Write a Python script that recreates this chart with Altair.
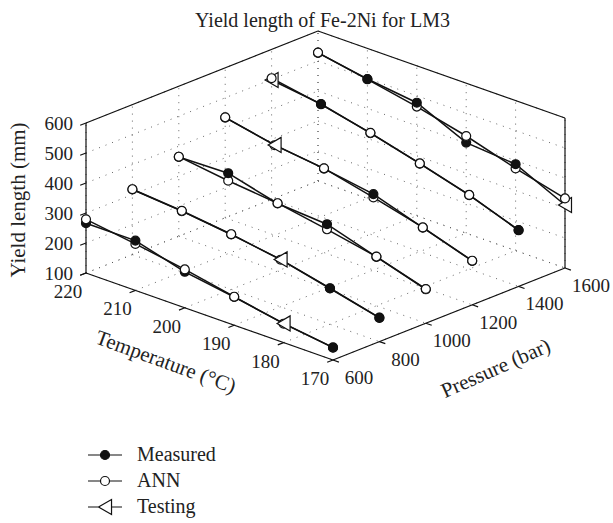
import math

import altair as alt
import pandas as pd

# Experiment settings
temperatures = [220, 210, 200, 190, 180, 170]       # °C
pressures = [600, 800, 1000, 1200, 1400, 1600]      # bar
yield_ticks = [100, 200, 300, 400, 500, 600]         # mm

# Yield length (mm): one row per pressure, values in temperature order
measured = [
    [266, 266, 220, 194, 164, 142],   # 600 bar
    [317, 303, 283, 258, 220, 180],   # 800 bar
    [364, 368, 325, 314, 263, 213],   # 1000 bar
    [434, 401, 380, 353, 299, 246],   # 1200 bar
    [498, 476, 437, 393, 346, 288],   # 1400 bar
    [527, 498, 477, 402, 388, 310],   # 1600 bar
]
ann = [
    [279, 255, 228, 195, 163, 141],
    [318, 304, 284, 257, 219, 179],
    [365, 343, 326, 297, 264, 214],
    [435, 400, 381, 342, 300, 247],
    [504, 475, 438, 394, 347, 287],
    [528, 497, 464, 424, 374, 332],
]
# measured points kept aside to test the network: (pressure, temperature)
testing = [(600, 180), (800, 190), (1200, 210), (1400, 220), (1600, 170)]

SERIES = ["Measured", "ANN", "Testing"]
FONT = "Liberation Serif"
INK = "#222222"

# Oblique 3-D view: screen vector spanned by each axis over its full range
T_HI, T_LO = max(temperatures), min(temperatures)
P_LO, P_HI = min(pressures), max(pressures)
Z_LO, Z_HI = min(yield_ticks), max(yield_ticks)
ORIGIN = (86.0, 273.0)        # corner (220 °C, 600 bar, 100 mm)
T_VEC = (247.0, 87.0)         # 220 °C -> 170 °C
P_VEC = (232.0, -92.0)        # 600 bar -> 1600 bar
Z_VEC = (0.0, -150.0)         # 100 mm -> 600 mm


def project(t, p, z):
    a = (T_HI - t) / (T_HI - T_LO)
    b = (p - P_LO) / (P_HI - P_LO)
    c = (z - Z_LO) / (Z_HI - Z_LO)
    sx = ORIGIN[0] + a * T_VEC[0] + b * P_VEC[0] + c * Z_VEC[0]
    sy = ORIGIN[1] + a * T_VEC[1] + b * P_VEC[1] + c * Z_VEC[1]
    return sx, sy


def segments(pairs):
    rows = []
    for k, (s, e) in enumerate(pairs):
        for n, pt in enumerate((s, e)):
            sx, sy = project(*pt)
            rows.append({"seg": k, "n": n, "sx": sx, "sy": sy})
    return pd.DataFrame(rows)


X = alt.X("sx:Q", scale=alt.Scale(domain=[0, 613], nice=False, zero=False), axis=None)
Y = alt.Y("sy:Q", scale=alt.Scale(domain=[28, 523], nice=False, zero=False, reverse=True), axis=None)

# dotted grid on the floor and the two back walls
grid_pairs = []
for t in temperatures:
    grid_pairs.append(((t, P_LO, Z_LO), (t, P_HI, Z_LO)))
    grid_pairs.append(((t, P_HI, Z_LO), (t, P_HI, Z_HI)))
for p in pressures:
    grid_pairs.append(((T_HI, p, Z_LO), (T_LO, p, Z_LO)))
    grid_pairs.append(((T_HI, p, Z_LO), (T_HI, p, Z_HI)))
for z in yield_ticks:
    grid_pairs.append(((T_HI, P_LO, z), (T_HI, P_HI, z)))
    grid_pairs.append(((T_HI, P_HI, z), (T_LO, P_HI, z)))
grid = alt.Chart(segments(grid_pairs)).mark_line(
    stroke="#555555", strokeWidth=0.9, strokeDash=[1, 6]
).encode(x=X, y=Y, detail="seg:N", order="n:O")

# box outline and outward tick marks
box_pairs = [
    ((T_HI, P_LO, Z_LO), (T_HI, P_LO, Z_HI)),
    ((T_LO, P_HI, Z_LO), (T_LO, P_HI, Z_HI)),
    ((T_HI, P_LO, Z_HI), (T_HI, P_HI, Z_HI)),
    ((T_HI, P_HI, Z_HI), (T_LO, P_HI, Z_HI)),
    ((T_HI, P_LO, Z_LO), (T_LO, P_LO, Z_LO)),
    ((T_LO, P_LO, Z_LO), (T_LO, P_HI, Z_LO)),
]
for t in temperatures:
    box_pairs.append(((t, P_LO, Z_LO), (t, P_LO - 25, Z_LO)))
for p in pressures:
    box_pairs.append(((T_LO, p, Z_LO), (T_LO - 1.2, p, Z_LO)))
for z in yield_ticks:
    box_pairs.append(((T_HI, P_LO, z), (T_HI, P_LO - 25, z)))
box = alt.Chart(segments(box_pairs)).mark_line(
    stroke="#111111", strokeWidth=1.2
).encode(x=X, y=Y, detail="seg:N", order="n:O")


def tick_labels(values, pts, dx, dy, align="center"):
    rows = []
    for v, pt in zip(values, pts):
        sx, sy = project(*pt)
        rows.append({"label": str(v), "sx": sx, "sy": sy})
    return alt.Chart(pd.DataFrame(rows)).mark_text(
        font=FONT, fontSize=19, color=INK, align=align, baseline="middle", dx=dx, dy=dy
    ).encode(x=X, y=Y, text="label:N")


t_labels = tick_labels(temperatures, [(t, P_LO, Z_LO) for t in temperatures], -18, 19)
p_labels = tick_labels(pressures, [(T_LO, p, Z_LO) for p in pressures], 26, 18)
z_labels = tick_labels(yield_ticks, [(T_HI, P_LO, z) for z in yield_ticks], -13, 1, align="right")


def axis_title(text, pt, shift, angle):
    # text offsets are applied in the rotated frame, so turn the screen shift back
    sx, sy = project(*pt)
    th = math.radians(angle)
    dx = shift[0] * math.cos(th) + shift[1] * math.sin(th)
    dy = -shift[0] * math.sin(th) + shift[1] * math.cos(th)
    df = pd.DataFrame([{"label": text, "sx": sx, "sy": sy}])
    return alt.Chart(df).mark_text(
        font=FONT, fontSize=21, color=INK, align="center", baseline="middle",
        dx=dx, dy=dy, angle=angle
    ).encode(x=X, y=Y, text="label:N")


titles = [
    axis_title("Temperature (°C)", ((T_HI + T_LO) / 2, P_LO, Z_LO), (-44, 46), 20),
    axis_title("Pressure (bar)", (T_LO, (P_LO + P_HI) / 2, Z_LO), (47, 55), 336),
    axis_title("Yield length (mm)", (T_HI, P_LO, (Z_LO + Z_HI) / 2), (-67, 2), 270),
]

# data: measured curves (including the test points) and ANN curves
line_rows, mark_rows = [], []
for j, p in enumerate(pressures):
    for i, t in enumerate(temperatures):
        for name, vals in (("Measured", measured), ("ANN", ann)):
            z = vals[j][i]
            sx, sy = project(t, p, z)
            line_rows.append({"curve": f"{name} {p}", "i": i, "sx": sx, "sy": sy})
            kind = name
            if name == "Measured" and (p, t) in testing:
                kind = "Testing"
            mark_rows.append({"kind": kind, "z": z, "sx": sx, "sy": sy})

lines = alt.Chart(pd.DataFrame(line_rows)).mark_line(
    stroke="#111111", strokeWidth=1.5
).encode(x=X, y=Y, detail="curve:N", order="i:O")

# markers drawn from low to high yield so the upper one sits in front
markers = alt.Chart(pd.DataFrame(mark_rows)).transform_calculate(
    shp="datum.kind === 'Testing' ? 'triangle-left' : 'circle'",
    fil="datum.kind === 'Measured' ? '#111111' : 'white'",
    sz="datum.kind === 'Testing' ? 225 : 80",
).mark_point(
    filled=True, stroke="#111111", strokeWidth=1.2, opacity=1
).encode(
    x=X, y=Y,
    shape=alt.Shape("shp:N", scale=None),
    fill=alt.Fill("fil:N", scale=None),
    size=alt.Size("sz:Q", scale=None),
    order=alt.Order("z:Q"),
)

# legend symbols: a short line with the series marker on it
leg_paths = [
    "M-2.27,0L2.27,0M0.6,0A0.6,0.6,0,1,1,-0.6,0A0.6,0.6,0,1,1,0.6,0Z",
    "M-2.27,0L-0.6,0M0.6,0L2.27,0M0.6,0A0.6,0.6,0,1,1,-0.6,0A0.6,0.6,0,1,1,0.6,0Z",
    "M-2.27,0L-0.87,0M0.87,0L2.27,0M-0.87,0L0.87,-1L0.87,1Z",
]
legend_props = dict(
    title=None, orient="none", legendX=95, legendY=417,
    labelFont=FONT, labelFontSize=20, labelColor=INK,
    labelOffset=22, rowPadding=6, padding=0,
    symbolStrokeColor="#111111", symbolStrokeWidth=1.2,
    symbolSize=225, symbolOpacity=1,
)
legend_layer = alt.Chart(pd.DataFrame({"series": SERIES})).mark_point(
    filled=True, stroke="#111111", strokeWidth=1.2, size=225, opacity=1
).encode(
    x=alt.value(300), y=alt.value(700),
    shape=alt.Shape("series:N", scale=alt.Scale(domain=SERIES, range=leg_paths),
                    legend=alt.Legend(**legend_props)),
    fill=alt.Fill("series:N", scale=alt.Scale(domain=SERIES, range=["#111111", "white", "white"]),
                  legend=alt.Legend(**legend_props)),
)

chart = alt.layer(
    grid, box, t_labels, p_labels, z_labels, *titles, lines, markers, legend_layer
).properties(
    width=613, height=495,
    autosize=alt.AutoSizeParams(type="none"),
    padding={"left": 0, "top": 28, "right": 0, "bottom": 0},
    title=alt.Title("Yield length of Fe-2Ni for LM3", font=FONT, fontSize=20,
                    fontWeight="normal", color=INK, anchor="middle", dx=16,
                    baseline="alphabetic", offset=-19, frame="group"),
    background="white",
).configure_view(stroke=None)

chart.save("out.html", embed_options={"renderer": "svg", "actions": False})
